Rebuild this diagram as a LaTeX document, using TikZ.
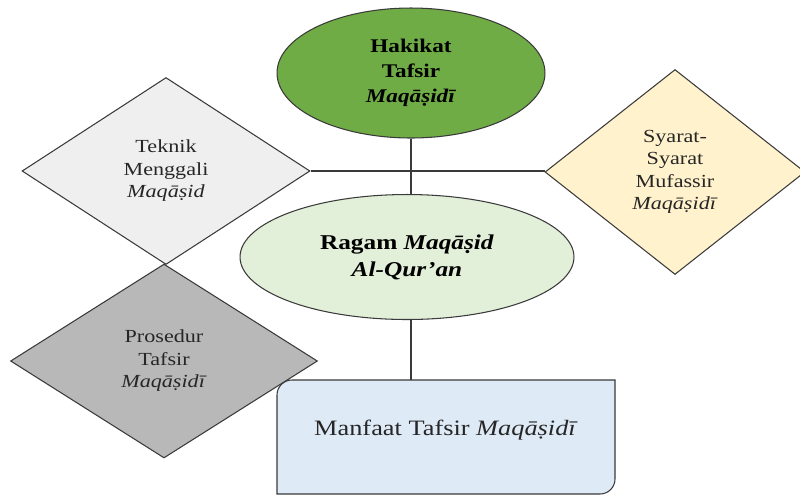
\documentclass[tikz,border=0pt]{standalone}
\usepackage{fontspec}
\setmainfont{Liberation Serif}[FakeStretch=1.2]
\usepackage{xcolor}
\usepackage{tikz}
\usetikzlibrary{shapes.geometric}
\definecolor{hakikatgreen}{HTML}{6FAC46}
\definecolor{ragamgreen}{HTML}{E2EFD9}
\definecolor{teknikgray}{HTML}{EFEFEF}
\definecolor{syaratyellow}{HTML}{FFF2CC}
\definecolor{prosedurgray}{HTML}{B8B8B8}
\definecolor{manfaatblue}{HTML}{DEEAF6}
\definecolor{edgegray}{HTML}{3A3A3A}

\begin{document}
\begin{tikzpicture}[x=0.02cm, y=-0.02cm, line width=0.6pt,
  oval/.style={ellipse, draw=edgegray, align=center, inner sep=0pt},
  rhomb/.style={diamond, draw=edgegray, align=center, inner sep=0pt, text=black!85, font=\fontsize{10.5}{12.8}\selectfont}]
\useasboundingbox (0,0) rectangle (800,495);
% Shapes
\node[oval, fill=hakikatgreen, minimum width=5.36cm, minimum height=2.6cm, font=\fontsize{11}{14.2}\selectfont\bfseries] (hakikat) at (411,73) {Hakikat\\Tafsir\\\textit{Maqāṣidī}};
\node[rhomb, fill=teknikgray, minimum width=5.76cm, minimum height=3.74cm] (teknik) at (166,171) {Teknik\\Menggali\\\textit{Maqāṣid}};
\node[rhomb, fill=syaratyellow, minimum width=5.2cm, minimum height=4.1cm] (syarat) at (675,172) {Syarat-\\Syarat\\Mufassir\\\textit{Maqāṣidī}};
\node[oval, fill=ragamgreen, minimum width=6.68cm, minimum height=2.5cm, font=\fontsize{12}{15.4}\selectfont\bfseries] (ragam) at (407,257) {Ragam \textit{Maqāṣid}\\\textit{Al-Qur’an}};
\node[rhomb, fill=prosedurgray, minimum width=6.14cm, minimum height=3.88cm] (prosedur) at (164,361) {Prosedur\\Tafsir\\\textit{Maqāṣidī}};

% Box
\coordinate (boxnw) at (277,380);
\coordinate (boxse) at (615,494);
\draw[draw=edgegray, fill=manfaatblue] (boxnw |- boxse) -- ([yshift=-0.3cm]boxnw) arc[start angle=180, end angle=90, radius=0.3cm]
  -- (boxse |- boxnw) -- ([yshift=0.3cm]boxse) arc[start angle=0, end angle=-90, radius=0.3cm] -- cycle;
\node[text=black!85, font=\fontsize{12.5}{15}\selectfont] (manfaat) at (446,430) {Manfaat Tafsir \textit{Maqāṣidī}};

%Lines
\draw[edgegray] (hakikat.south) -- (hakikat.south |- ragam.north);
\draw[edgegray] (teknik.east) -- (teknik.east -| syarat.west);
\draw[edgegray] (ragam.south -| hakikat.south) -- (hakikat.south |- boxnw);
\end{tikzpicture}
\end{document}
